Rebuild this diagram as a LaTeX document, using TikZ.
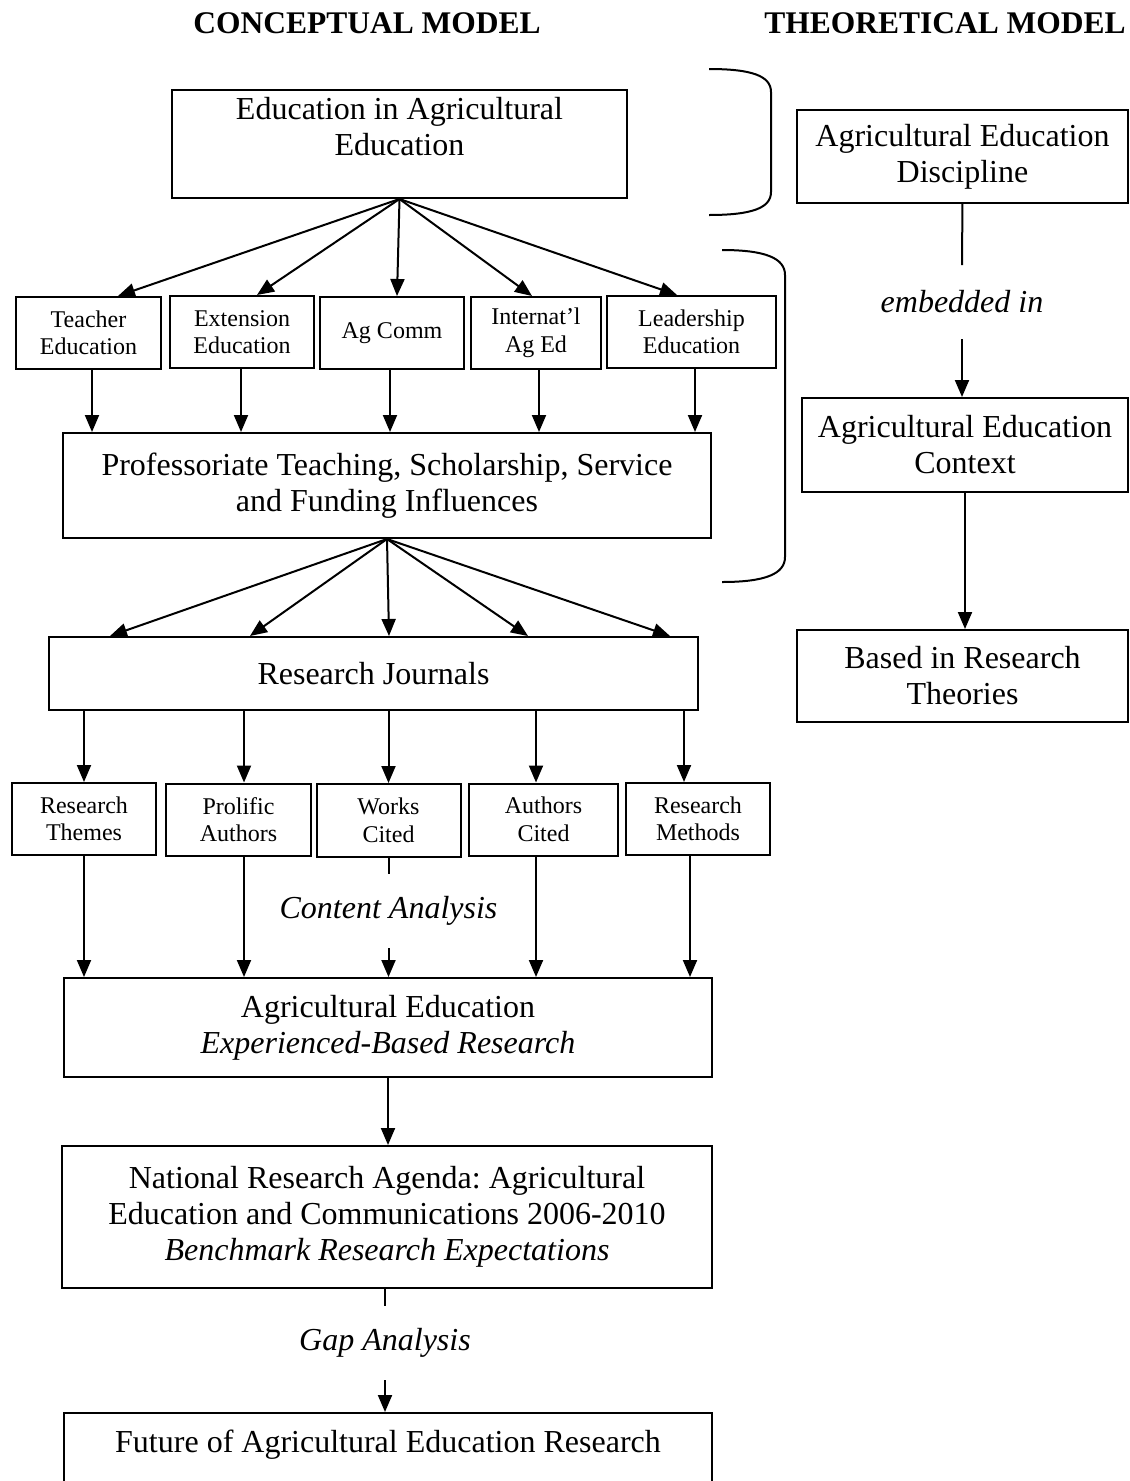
\documentclass[tikz,border=0pt]{standalone}
\usepackage{fontspec}
\setmainfont{Liberation Serif}
\usetikzlibrary{arrows.meta, positioning}
\frenchspacing
\tikzset{
  box/.style={draw, line width=2pt, align=center, inner sep=0pt, font=\fontsize{32}{36}\selectfont},
  smallbox/.style={draw, line width=2pt, align=center, inner sep=0pt, minimum height=72pt, font=\fontsize{24}{27.5}\selectfont},
  boxtext/.style={align=center, inner sep=0pt, font=\fontsize{32}{36}\selectfont},
  note/.style={inner sep=0pt, minimum height=72pt, font=\fontsize{32}{36}\selectfont\itshape},
  heading/.style={inner sep=0pt, font=\fontsize{31.5}{36}\selectfont\bfseries}
}

\begin{document}
\begin{tikzpicture}[>={Triangle[length=17pt,width=14pt]}, line width=2pt, x=1pt, y=-1pt]
\useasboundingbox (0,0) rectangle (1130,1481);
\node[heading] (hconc) at (367,23) {CONCEPTUAL MODEL};
\node[heading] (htheo) at (945,23) {THEORETICAL MODEL};
\node[box, minimum width=455pt, minimum height=108pt, label={[boxtext, yshift=17pt]center:Education in Agricultural\\Education}] (edu) at (399.5,144) {};
\node[smallbox, minimum width=145pt] (teach) at (88.5,333) {Teacher\\Education};
\node[smallbox, minimum width=144pt] (ext) at (242,332) {Extension\\Education};
\node[smallbox, minimum width=144pt] (comm) at (392,333) {Ag Comm};
\node[smallbox, minimum width=130pt] (intl) at (536,333) {Internat'l\\Ag Ed};
\node[smallbox, minimum width=169pt] (lead) at (691.5,332) {Leadership\\Education};
\node[box, minimum width=648pt, minimum height=105pt] (prof) at (387,485.5) {Professoriate Teaching, Scholarship, Service\\and Funding Influences};
\node[box, minimum width=649pt, minimum height=73pt] (journ) at (373.5,673.5) {Research Journals};
\node[smallbox, minimum width=144pt] (themes) at (84,819) {Research\\Themes};
\node[smallbox, minimum width=145pt] (prolific) at (238.5,819.5) {Prolific\\Authors};
\node[smallbox, minimum width=144pt, minimum height=73pt] (works) at (388.5,820.5) {Works\\Cited};
\node[smallbox, minimum width=149pt] (authcit) at (543.5,819.5) {Authors\\Cited};
\node[smallbox, minimum width=144pt] (methods) at (698,819) {Research\\Methods};
\node[note] (conta) at (388.5,911) {Content Analysis};
\node[box, minimum width=648pt, minimum height=99pt] (agexp) at (388,1027.5) {Agricultural Education\\\textit{Experienced-Based Research}};
\node[box, minimum width=650pt, minimum height=142pt] (agenda) at (387,1217) {National Research Agenda: Agricultural\\Education and Communications 2006-2010\\\textit{Benchmark Research Expectations}};
\node[note] (gap) at (385,1343) {Gap Analysis};
\node[box, minimum width=648pt, minimum height=100pt, label={[boxtext, yshift=18pt]center:Future of Agricultural Education Research}] (future) at (388,1463) {};
\node[box, minimum width=331pt, minimum height=93pt] (disc) at (962.5,156.5) {Agricultural Education\\Discipline};
\node[note] (emb) at (962,302) {embedded in};
\node[box, minimum width=326pt, minimum height=94pt] (ctx) at (965,445) {Agricultural Education\\Context};
\node[box, minimum width=331pt, minimum height=92pt] (theo) at (962.5,676) {Based in Research\\Theories};
\draw (709,69) .. controls (752,69) and (771,76) .. (771,92) -- (771,192) .. controls (771,208) and (752,215) .. (709,215);
\draw (722,250) .. controls (765,250) and (785,258) .. (785,275) -- (785,557) .. controls (785,574) and (765,582) .. (722,582);
\draw[->] (edu.south) -- ([xshift=29.5pt]teach.north);
\draw[->] (edu.south) -- ([xshift=15pt]ext.north);
\draw[->] (edu.south) -- ([xshift=5pt]comm.north);
\draw[->] (edu.south) -- ([xshift=-4pt]intl.north);
\draw[->] (edu.south) -- ([xshift=-14.5pt]lead.north);
\draw[->] ([xshift=3.5pt]teach.south) -- ([xshift=3.5pt]teach.south |- prof.north);
\draw[->] ([xshift=-1pt]ext.south) -- ([xshift=-1pt]ext.south |- prof.north);
\draw[->] ([xshift=-2pt]comm.south) -- ([xshift=-2pt]comm.south |- prof.north);
\draw[->] ([xshift=3pt]intl.south) -- ([xshift=3pt]intl.south |- prof.north);
\draw[->] ([xshift=3.5pt]lead.south) -- ([xshift=3.5pt]lead.south |- prof.north);
\draw[->] (prof.south) -- ([xshift=-263.5pt]journ.north);
\draw[->] (prof.south) -- ([xshift=-123.5pt]journ.north);
\draw[->] (prof.south) -- ([xshift=15.5pt]journ.north);
\draw[->] (prof.south) -- ([xshift=154.5pt]journ.north);
\draw[->] (prof.south) -- ([xshift=296.5pt]journ.north);
\draw[->] (themes.north |- journ.south) -- (themes.north);
\draw[->] ([xshift=5.5pt]prolific.north |- journ.south) -- ([xshift=5.5pt]prolific.north);
\draw[->] (works.north |- journ.south) -- (works.north);
\draw[->] ([xshift=-7.5pt]authcit.north |- journ.south) -- ([xshift=-7.5pt]authcit.north);
\draw[->] ([xshift=-14pt]methods.north |- journ.south) -- ([xshift=-14pt]methods.north);
\draw[->] (themes) -- (themes |- agexp.north);
\draw[->] ([xshift=5.5pt]prolific.south) -- ([xshift=5.5pt]prolific.south |- agexp.north);
\draw[->] ([xshift=-7.5pt]authcit.south) -- ([xshift=-7.5pt]authcit.south |- agexp.north);
\draw[->] ([xshift=-8pt]methods.south) -- ([xshift=-8pt]methods.south |- agexp.north);
\draw (works) -- (conta);
\draw[->] (conta) -- (conta |- agexp.north);
\draw[->] (agexp) -- (agexp |- agenda.north);
\draw (agenda.south -| gap) -- (gap);
\draw[->] (gap) -- (gap |- future.north);
\draw (disc) -- (emb);
\draw[->] (emb) -- (emb |- ctx.north);
\draw[->] (ctx) -- (ctx |- theo.north);
\end{tikzpicture}
\end{document}
